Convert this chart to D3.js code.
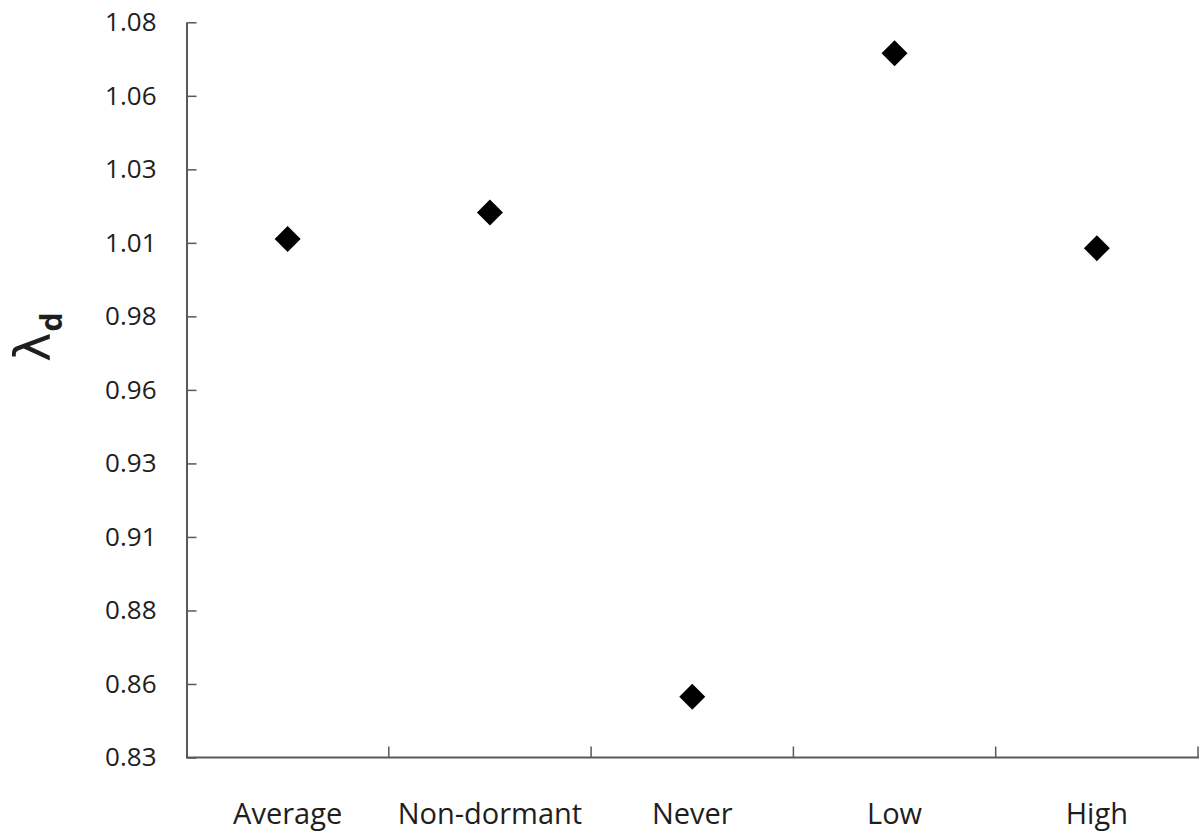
<!DOCTYPE html>
<html>
<head>
<meta charset="utf-8">
<script src="https://cdn.jsdelivr.net/npm/d3@7/dist/d3.min.js"></script>
<style>
  html, body { margin: 0; padding: 0; background: #fff; }
  svg { display: block; }
  text { font-family: "Open Sans", "Noto Sans", sans-serif; fill: #1e1e1e; }
</style>
</head>
<body>
<svg id="chart" width="1203" height="838"></svg>
<script>
// Population growth rate under each dormancy scenario
const categories = ["Average", "Non-dormant", "Never", "Low", "High"];
const lambdaValues = [1.0063, 1.0153, 0.8507, 1.0695, 1.0032];

// Y-axis ticks every 0.025, labelled to two decimals
const yTickValues = [0.83, 0.855, 0.88, 0.905, 0.93, 0.955, 0.98, 1.005, 1.03, 1.055, 1.08];
const yTickLabels = ["0.83", "0.86", "0.88", "0.91", "0.93", "0.96", "0.98", "1.01", "1.03", "1.06", "1.08"];

const svg = d3.select("#chart");
const axisColor = "#595959";

const plot = { left: 186.5, right: 1198, top: 22.3, bottom: 757.5 };

const x = d3.scaleBand()
  .domain(categories)
  .range([plot.left, plot.right])
  .padding(0);

const y = d3.scaleLinear()
  .domain([yTickValues[0], yTickValues[yTickValues.length - 1]])
  .range([plot.bottom, plot.top]);

// Y axis with inward ticks
const yAxis = svg.append("g")
  .attr("transform", `translate(${plot.left},0)`)
  .call(d3.axisLeft(y)
    .tickValues(yTickValues)
    .tickFormat((d, i) => yTickLabels[i])
    .tickSizeInner(-10)
    .tickSizeOuter(0)
    .tickPadding(30));
yAxis.select(".domain").attr("stroke", axisColor).attr("stroke-width", 2);
yAxis.selectAll(".tick line").attr("stroke", axisColor).attr("stroke-width", 1.5);
yAxis.selectAll(".tick text")
  .attr("font-size", 26)
  .attr("fill", "#1e1e1e")
  .style("font-family", "'Open Sans', sans-serif");

// X axis: category boundaries marked with upward ticks
const xAxis = svg.append("g")
  .attr("transform", `translate(0,${plot.bottom})`);
xAxis.append("line")
  .attr("x1", plot.left).attr("x2", plot.right + 1)
  .attr("y1", 0).attr("y2", 0)
  .attr("stroke", axisColor).attr("stroke-width", 2);
xAxis.selectAll("line.boundary")
  .data(categories)
  .join("line")
  .attr("class", "boundary")
  .attr("x1", d => x(d) + x.bandwidth())
  .attr("x2", d => x(d) + x.bandwidth())
  .attr("y1", 0).attr("y2", -11)
  .attr("stroke", axisColor).attr("stroke-width", 1.5);
xAxis.selectAll("text.cat")
  .data(categories)
  .join("text")
  .attr("class", "cat")
  .attr("x", d => x(d) + x.bandwidth() / 2)
  .attr("y", 66)
  .attr("text-anchor", "middle")
  .attr("font-size", 29)
  .text(d => d);

// Y-axis title: lambda with bold subscript d
const title = svg.append("text")
  .attr("transform", "translate(50,362) rotate(-90)")
  .attr("text-anchor", "start");
title.append("tspan")
  .attr("font-size", 50)
  .style("font-family", "'DejaVu Sans', sans-serif")
  .text("λ");
title.append("tspan")
  .attr("font-size", 30)
  .attr("font-weight", "bold")
  .attr("dy", 12)
  .attr("dx", 1)
  .text("d");

// Diamond markers
const half = 13;
svg.append("g")
  .selectAll("path")
  .data(categories.map((c, i) => ({ c, v: lambdaValues[i] })))
  .join("path")
  .attr("transform", d => `translate(${x(d.c) + x.bandwidth() / 2},${y(d.v)})`)
  .attr("d", `M0,${-half}L${half},0L0,${half}L${-half},0Z`)
  .attr("fill", "#000");
</script>
</body>
</html>
